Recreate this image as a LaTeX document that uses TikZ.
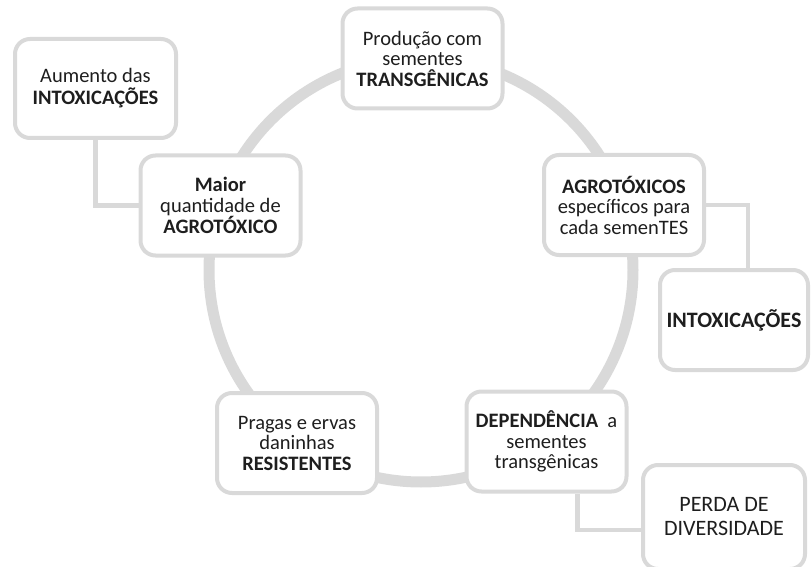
\documentclass[tikz,border=0pt]{standalone}
\usepackage{fontspec}
\setmainfont{Carlito}
\definecolor{ringgray}{HTML}{D9D9D9}
\definecolor{inkgray}{HTML}{1E1E1E}
\begin{document}
\begin{tikzpicture}[x=1pt,y=1pt]
\tikzstyle{every node}+=[inner sep=0pt]
\tikzstyle{box}=[draw=ringgray, line width=4pt, fill=white, rounded corners=15pt, minimum width=160pt, minimum height=100pt, align=center, text=inkgray, font=\fontsize{20.5}{20.5}\selectfont]
\tikzstyle{ring}=[draw=ringgray, line width=11pt]
\tikzstyle{link}=[draw=ringgray, line width=4.5pt]
\useasboundingbox (0,0) rectangle (812,-567);
\draw [ring] (421,-270) circle (212);
\node [box] (prod) at (422.5,-58.5) {Produção com\\sementes\\\textbf{TRANSGÊNICAS}};
\node [box] (agro) at (624,-205) {\textbf{AGROTÓXICOS}\\específicos para\\cada semenTES};
\node [box] (dep) at (546.5,-441.5) {\textbf{DEPENDÊNCIA}\ \ a\\sementes\\transgênicas};
\node [box] (pragas) at (297,-443) {Pragas e ervas\\daninhas\\\textbf{RESISTENTES}};
\node [box] (maior) at (220.5,-205.5) {\textbf{Maior}\\quantidade de\\\textbf{AGROTÓXICO}};
\node [box, minimum width=161pt, minimum height=99pt, font=\fontsize{20.5}{22}\selectfont] (aumento) at (95.5,-88.5) {Aumento das\\\textbf{INTOXICAÇÕES}};
\node [box, minimum width=148pt, minimum height=100pt, font=\fontsize{22}{24}\selectfont] (intox) at (734,-320) {\textbf{INTOXICAÇÕES}};
\node [box, minimum width=162pt, minimum height=104pt, font=\fontsize{22}{24}\selectfont] (perda) at (724,-517) {PERDA DE\\DIVERSIDADE};
\draw [link] (aumento.south) |- (maior.west);
\draw [link] (agro.east) -| ([xshift=14pt]intox.north);
\draw [link] ([xshift=31pt]dep.south) |- ([yshift=-13pt]perda.west);
\end{tikzpicture}
\end{document}
